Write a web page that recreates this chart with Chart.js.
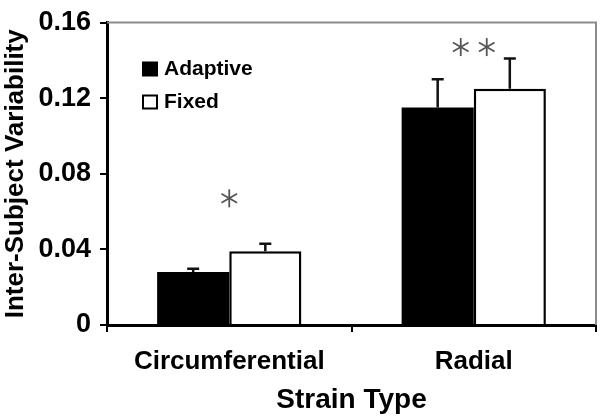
<!DOCTYPE html>
<html lang="en">
<head>
    <meta charset="UTF-8">
    <title>Inter-Subject Variability</title>
    <script src="https://cdn.jsdelivr.net/npm/chart.js@4"></script>
    <style>
        body { margin: 0; background: #fff; }
        canvas { display: block; }
    </style>
</head>
<body>
<canvas id="myChart" width="601" height="417"></canvas>
<script>
    var categories = ['Circumferential', 'Radial'];
    var adaptiveValues = [0.028, 0.115];
    var adaptiveErrors = [0.0018, 0.015];
    var fixedValues = [0.039, 0.125];
    var fixedErrors = [0.004, 0.016];
    var yTicks = [0, 0.04, 0.08, 0.12, 0.16];
    var sigMarks = [1, 2];          // number of asterisks per category
    var sigLevels = [0.067, 0.147]; // height of the asterisks

    Chart.defaults.font.family = "'Liberation Sans', Arial, sans-serif";
    Chart.defaults.color = '#000';

    // white page behind the chart
    var whiteBg = {
        id: 'whiteBg',
        beforeDraw: function (chart) {
            var ctx = chart.ctx;
            ctx.save();
            ctx.fillStyle = '#fff';
            ctx.fillRect(0, 0, chart.width, chart.height);
            ctx.restore();
        }
    };

    // grey frame on top and right of the plot
    var frame = {
        id: 'frame',
        beforeDatasetsDraw: function (chart) {
            var a = chart.chartArea, ctx = chart.ctx;
            ctx.save();
            ctx.strokeStyle = '#8c8c8c';
            ctx.lineWidth = 2;
            ctx.beginPath();
            ctx.moveTo(a.left, a.top);
            ctx.lineTo(a.right, a.top);
            ctx.lineTo(a.right, a.bottom);
            ctx.stroke();
            ctx.restore();
        }
    };

    // upward error bars
    var errorBars = {
        id: 'errorBars',
        afterDatasetsDraw: function (chart) {
            var ctx = chart.ctx, y = chart.scales.y;
            ctx.save();
            ctx.strokeStyle = '#111';
            ctx.lineWidth = 2.5;
            chart.data.datasets.forEach(function (ds, i) {
                chart.getDatasetMeta(i).data.forEach(function (bar, j) {
                    var top = y.getPixelForValue(ds.data[j] + ds.errors[j]);
                    ctx.beginPath();
                    ctx.moveTo(bar.x, bar.y);
                    ctx.lineTo(bar.x, top);
                    ctx.moveTo(bar.x - 6, top);
                    ctx.lineTo(bar.x + 6, top);
                    ctx.stroke();
                });
            });
            ctx.restore();
        }
    };

    // significance asterisks
    var asterisks = {
        id: 'asterisks',
        afterDatasetsDraw: function (chart) {
            var ctx = chart.ctx, x = chart.scales.x, y = chart.scales.y;
            ctx.save();
            ctx.strokeStyle = '#555';
            ctx.lineWidth = 1.8;
            sigMarks.forEach(function (n, j) {
                var cx = x.getPixelForValue(j), cy = y.getPixelForValue(sigLevels[j]);
                for (var k = 0; k < n; k++) {
                    var sx = cx + (k - (n - 1) / 2) * 26;
                    for (var a = 0; a < 3; a++) {
                        var ang = Math.PI / 2 + a * Math.PI / 3;
                        ctx.beginPath();
                        ctx.moveTo(sx - 9 * Math.cos(ang), cy - 9 * Math.sin(ang));
                        ctx.lineTo(sx + 9 * Math.cos(ang), cy + 9 * Math.sin(ang));
                        ctx.stroke();
                    }
                }
            });
            ctx.restore();
        }
    };

    // legend inside the plot, stacked
    var boxLegend = {
        id: 'boxLegend',
        afterDraw: function (chart) {
            var ctx = chart.ctx, a = chart.chartArea;
            ctx.save();
            ctx.font = 'bold 21px ' + Chart.defaults.font.family;
            ctx.textBaseline = 'middle';
            chart.data.datasets.forEach(function (ds, i) {
                var yy = a.top + 47 + i * 33;
                var xx = a.left + 36;
                ctx.fillStyle = ds.backgroundColor;
                ctx.fillRect(xx, yy - 7, 14, 13);
                ctx.strokeStyle = '#000';
                ctx.lineWidth = 2;
                ctx.strokeRect(xx, yy - 7, 14, 13);
                ctx.fillStyle = '#000';
                ctx.fillText(ds.label, xx + 21, yy);
            });
            ctx.restore();
        }
    };

    var ctx = document.getElementById('myChart').getContext('2d');
    var myChart = new Chart(ctx, {
        type: 'bar',
        data: {
            labels: categories,
            datasets: [{
                label: 'Adaptive',
                data: adaptiveValues,
                errors: adaptiveErrors,
                backgroundColor: '#000',
                borderColor: '#000',
                borderWidth: 0
            }, {
                label: 'Fixed',
                data: fixedValues,
                errors: fixedErrors,
                backgroundColor: '#fff',
                borderColor: '#000',
                borderWidth: 2.5
            }]
        },
        options: {
            responsive: false,
            animation: false,
            categoryPercentage: 0.59,
            barPercentage: 1.0,
            layout: { padding: { top: 14, right: 5, left: 0, bottom: 0 } },
            plugins: {
                legend: { display: false },
                tooltip: { enabled: false }
            },
            scales: {
                x: {
                    grid: {
                        offset: true,
                        drawOnChartArea: false,
                        tickLength: 7,
                        color: '#000',
                        lineWidth: 2
                    },
                    border: { color: '#000', width: 3 },
                    ticks: {
                        font: { size: 26, weight: 'bold', lineHeight: 1 },
                        padding: 17,
                        maxRotation: 0
                    },
                    title: {
                        display: true,
                        text: 'Strain Type',
                        font: { size: 28, weight: 'bold' },
                        padding: { top: 0, bottom: 0 }
                    },
                    afterFit: function (scale) { scale.height = 92; }
                },
                y: {
                    min: 0,
                    max: 0.16,
                    afterBuildTicks: function (axis) {
                        axis.ticks = yTicks.map(function (v) { return { value: v }; });
                    },
                    grid: {
                        drawOnChartArea: false,
                        tickLength: 7,
                        color: '#000',
                        lineWidth: 2
                    },
                    border: { color: '#000', width: 3 },
                    ticks: {
                        font: { size: 27, weight: 'bold', lineHeight: 1 },
                        padding: 9,
                        callback: function (v) { return v === 0 ? '0' : v.toFixed(2); }
                    },
                    title: {
                        display: true,
                        text: 'Inter-Subject Variability',
                        font: { size: 26, weight: 'bold' },
                        padding: { top: 0, bottom: 0 }
                    },
                    afterFit: function (scale) { scale.width = 107; }
                }
            }
        },
        plugins: [whiteBg, frame, errorBars, asterisks, boxLegend]
    });
</script>
</body>
</html>
